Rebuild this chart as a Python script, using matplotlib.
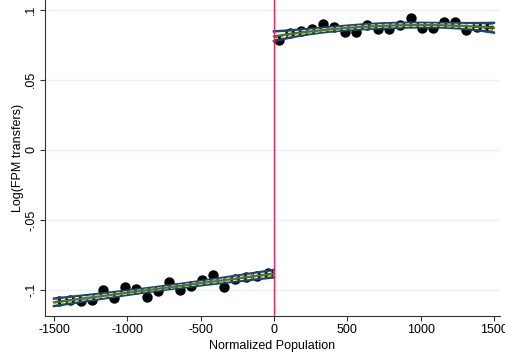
import numpy as np
import matplotlib
matplotlib.use("Agg")
import matplotlib.pyplot as plt

plt.rcParams['font.family'] = ['Liberation Sans', 'DejaVu Sans']

# binned means, left and right of the cutoff
left_x = [-1462.5, -1387.5, -1312.5, -1237.5, -1162.5, -1087.5, -1012.5, -937.5, -862.5, -787.5,
          -712.5, -637.5, -562.5, -487.5, -412.5, -337.5, -262.5, -187.5, -112.5, -37.5]
left_y = [-0.108, -0.107, -0.108, -0.107, -0.100, -0.106, -0.098, -0.099, -0.105, -0.101,
          -0.094, -0.100, -0.097, -0.093, -0.089, -0.098, -0.092, -0.091, -0.090, -0.088]
right_x = [37.5, 112.5, 187.5, 262.5, 337.5, 412.5, 487.5, 562.5, 637.5, 712.5,
           787.5, 862.5, 937.5, 1012.5, 1087.5, 1162.5, 1237.5, 1312.5, 1387.5, 1462.5]
right_y = [0.0786, 0.0835, 0.0850, 0.0860, 0.0898, 0.0874, 0.0845, 0.0840, 0.0895, 0.0864,
           0.0864, 0.0890, 0.0940, 0.0870, 0.0870, 0.0915, 0.0915, 0.0855, 0.0880, 0.0875]

x_ticks = [-1500, -1000, -500, 0, 500, 1000, 1500]
y_ticks = [-0.1, -0.05, 0.0, 0.05, 0.1]
y_tick_labels = ['-.1', '-.05', '0', '.05', '.1']

NAVY = '#1a476f'
GREEN = '#55752f'


def fit_ci(x, y, deg, grid):
    x = np.asarray(x)
    y = np.asarray(y)
    X = np.vander(x, deg + 1)
    beta, res, _, _ = np.linalg.lstsq(X, y, rcond=None)
    resid = y - X @ beta
    s2 = resid @ resid / (len(y) - deg - 1)
    cov = s2 * np.linalg.inv(X.T @ X)
    G = np.vander(grid, deg + 1)
    yhat = G @ beta
    se = np.sqrt(np.einsum('ij,jk,ik->i', G, cov, G))
    return yhat, yhat - 1.96 * se, yhat + 1.96 * se


fig = plt.figure(figsize=(5.06, 3.6), dpi=100)
ax = fig.add_axes([0.089, 0.122, 0.899, 0.878])

for xs, ys, deg, lo, hi in [(left_x, left_y, 1, -1500, 0), (right_x, right_y, 2, 0, 1500)]:
    grid = np.linspace(lo, hi, 100)
    yhat, lower, upper = fit_ci(xs, ys, deg, grid)
    ax.scatter(xs, ys, s=42, color='black', zorder=3)
    ax.plot(grid, upper, color=NAVY, lw=1.8, zorder=4)
    ax.plot(grid, lower, color=NAVY, lw=1.8, zorder=4)
    ax.plot(grid, (upper + yhat) / 2, color='#f0eeb8', lw=1.0, ls=(0, (3, 2)), zorder=4)
    ax.plot(grid, (lower + yhat) / 2, color='#f0eeb8', lw=1.0, ls=(0, (3, 2)), zorder=4)
    ax.plot(grid, yhat, color=GREEN, lw=1.6, zorder=5)

ax.axvline(0, color='#e0245c', lw=1.0, zorder=6)

ax.set_xlim(-1561, 1541)
ax.set_ylim(-0.1186, 0.107)
ax.set_xticks(x_ticks)
ax.set_xticklabels([str(t) for t in x_ticks])
ax.set_yticks(y_ticks)
ax.set_yticklabels(y_tick_labels, rotation=90, va='center')
ax.grid(axis='y', color='#eaf2f3', lw=1.0)
ax.set_axisbelow(True)

for side in ['top', 'right']:
    ax.spines[side].set_visible(False)
for side in ['left', 'bottom']:
    ax.spines[side].set_color('#333333')
    ax.spines[side].set_linewidth(0.8)
ax.tick_params(length=3.6, width=0.8, pad=2, colors='#333333', labelsize=9, labelcolor='black')

ax.set_xlabel('Normalized Population', fontsize=9, labelpad=3)
ax.set_ylabel('Log(FPM transfers)', fontsize=9, labelpad=1)

fig.savefig('out.png', dpi=100)
